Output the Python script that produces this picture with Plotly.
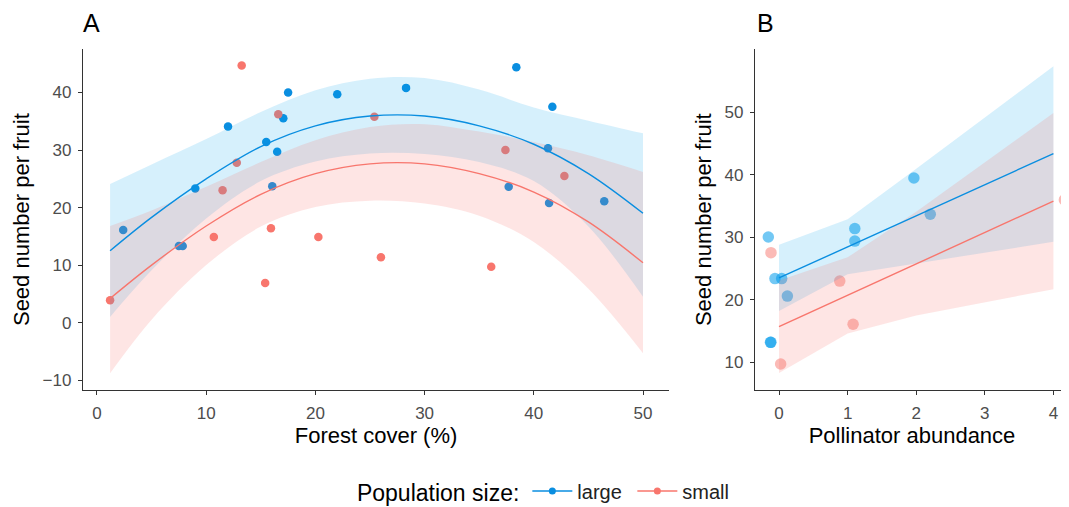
import plotly.graph_objects as go

# ---------------- Panel A data: Forest cover ----------------
a_large_x = [2.4, 7.5, 7.85, 9.0, 12.0, 15.5, 16.05, 16.5, 17.06, 17.5, 22.0, 28.3, 37.7, 38.4, 41.3, 41.4, 41.7, 46.45]
a_large_y = [16.1, 13.3, 13.3, 23.3, 34.1, 31.4, 23.7, 29.7, 35.5, 40.0, 39.7, 40.8, 23.6, 44.4, 30.3, 20.8, 37.5, 21.1]
a_small_x = [1.2, 10.7, 11.5, 12.8, 13.25, 15.4, 15.93, 16.6, 20.27, 25.4, 26.0, 36.1, 37.4, 42.8]
a_small_y = [3.9, 14.9, 23.0, 27.8, 44.7, 6.9, 16.4, 36.2, 14.9, 35.8, 11.35, 9.7, 30.0, 25.5]

# fitted curves and confidence bands
a_fit_x = [1.2, 5, 10, 15, 20, 25, 30, 35, 40, 45, 50]
a_large_fit = [12.5, 18.3, 25.0, 30.6, 34.2, 35.9, 35.9, 34.2, 31.0, 25.9, 19.0]
a_large_upper = [24.1, 27.5, 31.9, 36.6, 40.4, 42.4, 42.5, 40.5, 37.4, 35.1, 32.9]
a_large_lower = [1.0, 9.1, 18.1, 24.6, 28.0, 29.4, 29.3, 27.9, 24.6, 16.7, 4.5]
a_small_fit = [4.2, 10.0, 16.8, 22.3, 25.9, 27.6, 27.6, 25.9, 22.7, 17.5, 10.4]
a_small_upper = [16.8, 19.5, 23.6, 27.9, 31.7, 34.0, 34.5, 33.2, 31.4, 29.1, 26.2]
a_small_lower = [-8.8, 0.5, 10.0, 16.7, 20.1, 21.2, 20.7, 18.6, 14.0, 5.9, -5.3]

# ---------------- Panel B data: Pollinator abundance ----------------
b_large_x = [-0.156, -0.125, -0.118, -0.059, 0.039, 0.122, 1.105, 1.105, 1.966, 2.205]
b_large_y = [30.05, 13.2, 13.2, 23.4, 23.4, 20.6, 31.4, 29.4, 39.5, 33.7]
b_small_x = [-0.117, 0.024, 0.885, 1.08, 4.16]
b_small_y = [27.55, 9.73, 23.0, 16.1, 36.0]

b_fit_x = [0, 1, 2, 3, 4]
b_large_fit = [23.5, 28.5, 33.4, 38.4, 43.4]
b_large_upper = [28.8, 32.9, 41.0, 49.2, 57.4]
b_large_lower = [18.2, 24.1, 25.8, 27.6, 29.3]
b_small_fit = [15.7, 20.7, 25.8, 30.8, 35.8]
b_small_upper = [23.1, 26.8, 34.1, 42.0, 49.9]
b_small_lower = [8.3, 14.6, 17.5, 19.6, 21.7]

groups = ["large", "small"]

BLUE = "#0A8EE0"
RED = "#F8766D"
BLUE_FILL = "rgba(0,160,235,0.16)"
RED_FILL = "rgba(248,118,109,0.19)"
BLUE_PT_B = "rgba(0,155,235,0.55)"
RED_PT_B = "rgba(248,118,109,0.5)"
FONT = "Liberation Sans, Arial, sans-serif"

fig = go.Figure()

# ---- Panel A points (drawn under ribbons) ----
fig.add_trace(go.Scatter(x=a_large_x, y=a_large_y, mode="markers",
                         marker=dict(color=BLUE, size=8.5), showlegend=False,
                         xaxis="x", yaxis="y"))
fig.add_trace(go.Scatter(x=a_small_x, y=a_small_y, mode="markers",
                         marker=dict(color=RED, size=8.5), showlegend=False,
                         xaxis="x", yaxis="y"))

# ---- Panel A ribbons ----
for lo, up, fc in [(a_large_lower, a_large_upper, BLUE_FILL), (a_small_lower, a_small_upper, RED_FILL)]:
    fig.add_trace(go.Scatter(x=a_fit_x, y=lo, mode="lines", line=dict(width=0, shape="spline"),
                             showlegend=False, hoverinfo="skip", xaxis="x", yaxis="y"))
    fig.add_trace(go.Scatter(x=a_fit_x, y=up, mode="lines", line=dict(width=0, shape="spline"),
                             fill="tonexty", fillcolor=fc, showlegend=False, hoverinfo="skip",
                             xaxis="x", yaxis="y"))

# ---- Panel A lines ----
fig.add_trace(go.Scatter(x=a_fit_x, y=a_large_fit, mode="lines", line=dict(color=BLUE, width=1.4, shape="spline"),
                         showlegend=False, xaxis="x", yaxis="y"))
fig.add_trace(go.Scatter(x=a_fit_x, y=a_small_fit, mode="lines", line=dict(color=RED, width=1.4, shape="spline"),
                         showlegend=False, xaxis="x", yaxis="y"))

# ---- Panel B points ----
fig.add_trace(go.Scatter(x=b_large_x, y=b_large_y, mode="markers",
                         marker=dict(color=BLUE_PT_B, size=11.5), showlegend=False,
                         xaxis="x2", yaxis="y2", cliponaxis=True))
fig.add_trace(go.Scatter(x=b_small_x, y=b_small_y, mode="markers",
                         marker=dict(color=RED_PT_B, size=11.5), showlegend=False,
                         xaxis="x2", yaxis="y2", cliponaxis=True))

# ---- Panel B ribbons ----
for lo, up, fc in [(b_large_lower, b_large_upper, BLUE_FILL), (b_small_lower, b_small_upper, RED_FILL)]:
    fig.add_trace(go.Scatter(x=b_fit_x, y=lo, mode="lines", line=dict(width=0),
                             showlegend=False, hoverinfo="skip", xaxis="x2", yaxis="y2"))
    fig.add_trace(go.Scatter(x=b_fit_x, y=up, mode="lines", line=dict(width=0),
                             fill="tonexty", fillcolor=fc, showlegend=False, hoverinfo="skip",
                             xaxis="x2", yaxis="y2"))

# ---- Panel B lines ----
fig.add_trace(go.Scatter(x=b_fit_x, y=b_large_fit, mode="lines", line=dict(color=BLUE, width=1.4),
                         showlegend=False, xaxis="x2", yaxis="y2"))
fig.add_trace(go.Scatter(x=b_fit_x, y=b_small_fit, mode="lines", line=dict(color=RED, width=1.4),
                         showlegend=False, xaxis="x2", yaxis="y2"))

# ---- Legend entries ----
for name, col in zip(groups, [BLUE, RED]):
    fig.add_trace(go.Scatter(x=[None], y=[None], mode="lines+markers", name=name,
                             line=dict(color=col, width=1.6), marker=dict(color=col, size=7),
                             xaxis="x", yaxis="y"))

axis_common = dict(showline=True, linecolor="#333333", linewidth=1.3, ticks="outside",
                   ticklen=4, tickwidth=1.1, tickcolor="#333333", showgrid=False, zeroline=False,
                   automargin=False, ticklabelstandoff=3,
                   tickfont=dict(family=FONT, size=17, color="#4d4d4d"),
                   title_font=dict(family=FONT, size=22, color="#000000"))

# the page is drawn with an 8px body offset, so the figure is sized to fill the rest of the window
W, H = 1061, 499
ydom = [0.2345, 0.9172]
fig.update_layout(
    width=W, height=H,
    margin=dict(l=0, r=0, t=0, b=0, autoexpand=False),
    paper_bgcolor="white", plot_bgcolor="white",
    font=dict(family=FONT),
    xaxis=dict(domain=[0.0707, 0.6230], range=[-1.28, 52.38], anchor="y",
               tickvals=[0, 10, 20, 30, 40, 50], title=dict(text="Forest cover (%)", standoff=5), **axis_common),
    yaxis=dict(domain=ydom, range=[-11.7, 47.5], anchor="x",
               tickvals=[-10, 0, 10, 20, 30, 40], title=dict(text="Seed number per fruit", standoff=6), **axis_common),
    xaxis2=dict(domain=[0.70405, 1.0], range=[-0.35, 4.227], anchor="y2",
                tickvals=[0, 1, 2, 3, 4], title=dict(text="Pollinator abundance", standoff=5), **axis_common),
    yaxis2=dict(domain=ydom, range=[5.57, 60.1], anchor="x2",
                tickvals=[10, 20, 30, 40, 50], title=dict(text="Seed number per fruit", standoff=6), **axis_common),
    legend=dict(orientation="h", x=0.327, y=0.031, xanchor="left", yanchor="middle",
                traceorder="normal", bgcolor="rgba(0,0,0,0)",
                itemwidth=40, entrywidth=50, entrywidthmode="pixels",
                font=dict(family=FONT, size=20, color="#222222"),
                title=dict(text="Population size:", side="left",
                           font=dict(family=FONT, size=23, color="#000000"))),
    annotations=[
        dict(text="A", x=0.0688, y=0.970, xref="paper", yref="paper", xanchor="left", yanchor="middle",
             showarrow=False, font=dict(family=FONT, size=25, color="#000000")),
        dict(text="B", x=0.704, y=0.970, xref="paper", yref="paper", xanchor="left", yanchor="middle",
             showarrow=False, font=dict(family=FONT, size=25, color="#000000")),
    ],
)

fig.write_html("out.html")
